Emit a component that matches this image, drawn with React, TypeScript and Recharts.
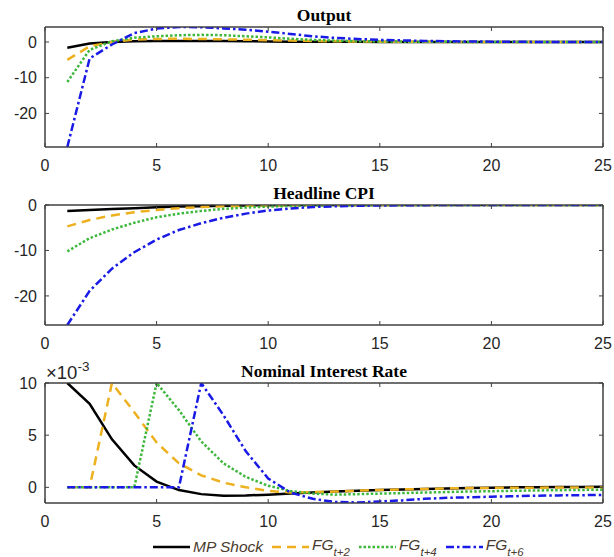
import { LineChart, Line, XAxis, YAxis, ReferenceArea } from "recharts";

// impulse responses, horizons 1..25
const horizon = [1, 2, 3, 4, 5, 6, 7, 8, 9, 10, 11, 12, 13, 14, 15, 16, 17, 18, 19, 20, 21, 22, 23, 24, 25];

// Output
const outMP = [-1.6, -0.4, 0, 0.2, 0.3, 0.3, 0.28, 0.25, 0.2, 0.15, 0.1, 0.08, 0.05, 0.04, 0.03, 0.02, 0.01, 0, 0, 0, 0, 0, 0, 0, 0];
const outFG2 = [-5.0, -1.2, 0, 0.7, 0.85, 0.9, 0.85, 0.75, 0.65, 0.5, 0.4, 0.3, 0.2, 0.15, 0.1, 0.07, 0.05, 0.03, 0.02, 0.01, 0, 0, 0, 0, 0];
const outFG4 = [-11.2, -2.2, 0.2, 1.2, 1.6, 1.9, 2.0, 1.9, 1.6, 1.3, 0.9, 0.6, 0.4, 0.25, 0.15, 0.1, 0.06, 0.04, 0.02, 0.01, 0, 0, 0, 0, 0];
const outFG6 = [-29.4, -4.6, -0.7, 2.5, 3.75, 4.2, 4.15, 3.8, 3.45, 2.9, 2.25, 1.6, 1.15, 0.85, 0.6, 0.45, 0.3, 0.2, 0.15, 0.1, 0.05, 0.03, 0.02, 0.01, 0];

// Headline CPI
const cpiMP = [-1.3, -1.1, -0.9, -0.7, -0.5, -0.35, -0.25, -0.15, -0.1, -0.05, 0, 0, 0, 0, 0, 0, 0, 0, 0, 0, 0, 0, 0, 0, 0];
const cpiFG2 = [-4.7, -3.3, -2.3, -1.6, -1.1, -0.7, -0.45, -0.3, -0.18, -0.1, -0.06, -0.03, -0.02, -0.01, 0, 0, 0, 0, 0, 0, 0, 0, 0, 0, 0];
const cpiFG4 = [-10.2, -7.3, -5.4, -3.9, -2.7, -1.9, -1.3, -0.85, -0.55, -0.35, -0.2, -0.12, -0.07, -0.04, -0.02, -0.01, 0, 0, 0, 0, 0, 0, 0, 0, 0];
const cpiFG6 = [-26.4, -18.9, -14.0, -10.4, -7.6, -5.5, -4.0, -2.8, -1.9, -1.2, -0.75, -0.45, -0.28, -0.17, -0.1, -0.06, -0.03, -0.02, -0.01, 0, 0, 0, 0, 0, 0];

// Nominal interest rate (x 10^-3)
const rateMP = [10, 8.0, 4.6, 2.1, 0.55, -0.26, -0.65, -0.8, -0.78, -0.7, -0.58, -0.5, -0.4, -0.32, -0.25, -0.2, -0.15, -0.1, -0.06, -0.03, 0, 0.02, 0.03, 0.04, 0.05];
const rateFG2 = [0, 0, 10, 7.2, 4.3, 2.3, 1.15, 0.45, 0, -0.33, -0.5, -0.45, -0.4, -0.32, -0.25, -0.2, -0.15, -0.1, -0.07, -0.05, -0.04, -0.03, -0.02, -0.02, -0.02];
const rateFG4 = [0, 0, 0, 0, 10, 7.4, 4.4, 2.3, 1.0, 0.15, -0.35, -0.6, -0.7, -0.65, -0.6, -0.55, -0.5, -0.45, -0.4, -0.37, -0.33, -0.3, -0.27, -0.25, -0.22];
const rateFG6 = [0, 0, 0, 0, 0, 0, 10, 6.9, 3.45, 0.85, -0.5, -1.1, -1.4, -1.45, -1.35, -1.25, -1.1, -1.0, -0.95, -0.9, -0.85, -0.8, -0.77, -0.75, -0.73];

const xTicks = [0, 5, 10, 15, 20, 25];

const SERIES = [
  { key: "mp", name: "MP Shock", color: "#000000", dash: undefined as string | undefined },
  { key: "fg2", name: "t+2", color: "#EDB120", dash: "9 6" },
  { key: "fg4", name: "t+4", color: "#3DB83D", dash: "2.5 2" },
  { key: "fg6", name: "t+6", color: "#1A1AE6", dash: "8 3 2.5 3" },
];

const AXIS = "#404040";
const TXT = "#262626";
const SANS = "'Liberation Sans', Arial, Helvetica, sans-serif";
const SERIF = "'Liberation Serif', 'Times New Roman', serif";

function toRows(a: number[], b: number[], c: number[], d: number[]) {
  return horizon.map((h, i) => ({ h, mp: a[i], fg2: b[i], fg4: c[i], fg6: d[i] }));
}

interface PanelProps {
  title: string;
  rows: Record<string, number>[];
  domain: [number, number];
  yTicks: number[];
  top: number;
}

const blank = () => "";

function Panel({ title, rows, domain, yTicks, top }: PanelProps) {
  const tickStyle = { fontSize: 16, fill: TXT, fontFamily: SANS };
  return (
    <div style={{ position: "absolute", left: 0, top }}>
      <div
        style={{
          position: "absolute", left: 45, top: 5, width: 558, textAlign: "center",
          fontFamily: SERIF, fontWeight: "bold", fontSize: 17.5, lineHeight: "20px", color: "#000",
        }}
      >
        {title}
      </div>
      <LineChart width={614} height={177} data={rows} margin={{ top: 26, right: 0, bottom: 0, left: 0 }}>
        {/* box around the plot, matlab style */}
        <ReferenceArea
          x1={0}
          x2={25}
          y1={domain[0]}
          y2={domain[1]}
          fill="none"
          fillOpacity={0}
          stroke={AXIS}
          strokeWidth={1}
          ifOverflow="visible"
        />
        <XAxis
          dataKey="h"
          type="number"
          domain={[0, 25]}
          ticks={xTicks}
          allowDataOverflow
          height={30}
          stroke={AXIS}
          tickSize={-4}
          tickMargin={17}
          tick={tickStyle}
        />
        <XAxis
          xAxisId="top"
          dataKey="h"
          type="number"
          orientation="top"
          domain={[0, 25]}
          ticks={xTicks}
          allowDataOverflow
          height={1}
          stroke={AXIS}
          tickSize={-4}
          tickFormatter={blank}
        />
        <YAxis
          type="number"
          domain={domain}
          ticks={yTicks}
          allowDataOverflow
          width={45}
          stroke={AXIS}
          tickSize={-4}
          tickMargin={12}
          tick={tickStyle}
        />
        <YAxis
          yAxisId="right"
          orientation="right"
          type="number"
          domain={domain}
          ticks={yTicks}
          allowDataOverflow
          width={11}
          stroke={AXIS}
          tickSize={-4}
          tickFormatter={blank}
        />
        {SERIES.map((s) => (
          <Line
            key={s.key}
            type="linear"
            dataKey={s.key}
            stroke={s.color}
            strokeWidth={2.5}
            strokeDasharray={s.dash}
            dot={false}
            isAnimationActive={false}
          />
        ))}
      </LineChart>
    </div>
  );
}

function LegendRow() {
  return (
    <div style={{ position: "absolute", left: 150, top: 536, height: 22, display: "flex", alignItems: "center", fontFamily: SANS, fontStyle: "italic", fontSize: 15.5, color: "#4a3b2f" }}>
      {SERIES.map((s) => (
        <div key={s.key} style={{ display: "flex", alignItems: "center", marginRight: 6 }}>
          <svg width={42} height={10} style={{ marginRight: 1 }}>
            <line x1={3} y1={5} x2={40} y2={5} stroke={s.color} strokeWidth={2.5} strokeDasharray={s.dash} />
          </svg>
          {s.key === "mp" ? (
            <span>{s.name}</span>
          ) : (
            <span>
              FG<sub style={{ fontSize: 11.5, verticalAlign: "-6px" }}>{s.name}</sub>
            </span>
          )}
        </div>
      ))}
    </div>
  );
}

export default function App() {
  return (
    <div style={{ position: "absolute", left: 0, top: 0, width: 614, height: 557, background: "#fff", overflow: "hidden" }}>
      <Panel title="Output" rows={toRows(outMP, outFG2, outFG4, outFG6)} domain={[-29.4, 4.2]} yTicks={[-20, -10, 0]} top={0} />
      <Panel title="Headline CPI" rows={toRows(cpiMP, cpiFG2, cpiFG4, cpiFG6)} domain={[-26.4, 0]} yTicks={[-20, -10, 0]} top={178} />
      <Panel title="Nominal Interest Rate" rows={toRows(rateMP, rateFG2, rateFG4, rateFG6)} domain={[-1.5, 10]} yTicks={[0, 5, 10]} top={356} />
      <div style={{ position: "absolute", left: 46, top: 363, fontFamily: SANS, fontSize: 18.5, color: TXT, lineHeight: "20px" }}>
        ×10<sup style={{ fontSize: 13.5, verticalAlign: "8px", lineHeight: 0 }}>-3</sup>
      </div>
      <LegendRow />
    </div>
  );
}
